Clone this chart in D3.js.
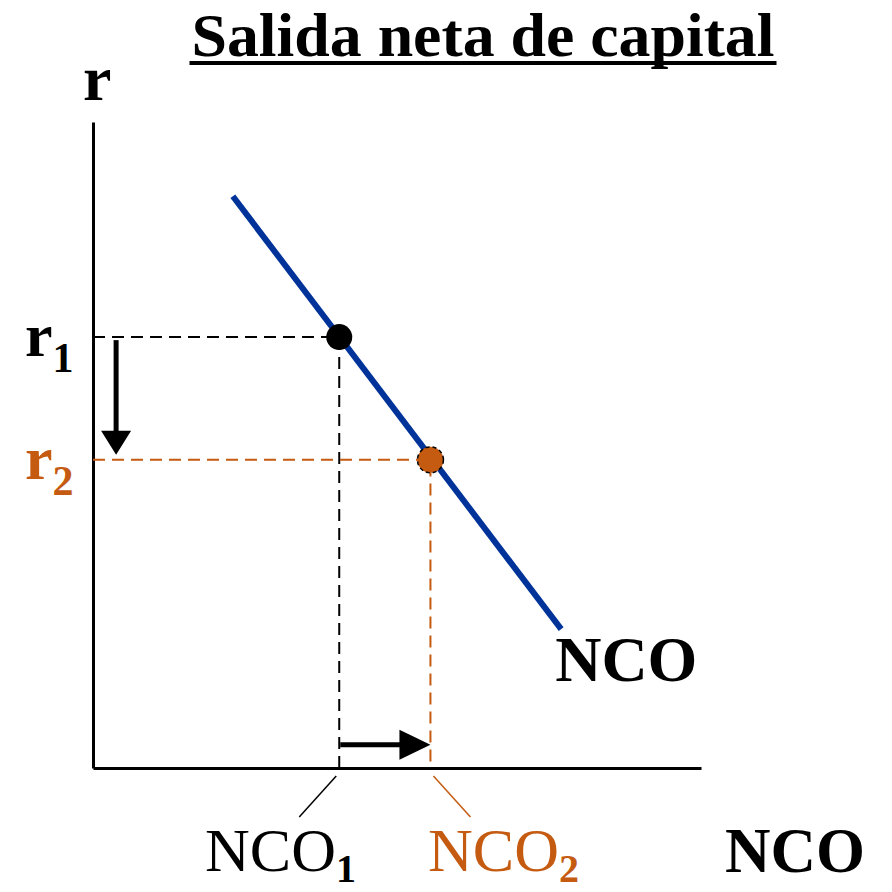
<!DOCTYPE html>
<html>
<head>
<meta charset="utf-8">
<script src="https://cdn.jsdelivr.net/npm/d3@7"></script>
<style>
  body { margin: 0; background: #fff; }
  svg { display: block; }
  text { font-family: "Liberation Serif", "Times New Roman", serif; }
</style>
</head>
<body>
<svg id="chart"></svg>
<script>
const width = 892;
const height = 892;
const margin = { top: 122, right: 191, bottom: 124, left: 93 };

// NCO demand curve (two end points, in chart units)
const curveX = [2.3, 7.7];
const curveY = [8.85, 2.15];
// equilibrium points: before (1) and after (2)
const eqNames = ["1", "2"];
const eqX = [4.05, 5.55];
const eqY = [6.67, 4.77];

const orange = "#c55a11";
const blue = "#003399";

const x = d3.scaleLinear().domain([0, 10]).range([margin.left, width - margin.right]);
const y = d3.scaleLinear().domain([0, 10]).range([height - margin.bottom, margin.top]);

const svg = d3.select("#chart").attr("width", width).attr("height", height);

// title (stretched a bit to the reference width)
const tw = 583;
svg.append("text")
  .attr("x", 483).attr("y", 56)
  .attr("text-anchor", "middle")
  .attr("font-size", 62).attr("font-weight", "bold")
  .attr("textLength", tw).attr("lengthAdjust", "spacingAndGlyphs")
  .text("Salida neta de capital");
svg.append("line")
  .attr("x1", 483 - tw / 2 - 2).attr("x2", 483 + tw / 2 + 2)
  .attr("y1", 63).attr("y2", 63)
  .attr("stroke", "#000").attr("stroke-width", 4);

// axes
svg.append("g")
  .attr("transform", `translate(0,${y(0)})`)
  .call(d3.axisBottom(x).tickValues([]).tickSizeOuter(0));
svg.append("g")
  .attr("transform", `translate(${x(0)},0)`)
  .call(d3.axisLeft(y).tickValues([]).tickSizeOuter(0));
svg.selectAll(".domain").attr("stroke", "#000").attr("stroke-width", 3);

// dashed guides
const colors = ["#000", orange];
eqX.forEach((v, i) => {
  svg.append("path")
    .attr("d", `M${x(0)},${y(eqY[i])}H${x(v)}V${y(0)}`)
    .attr("fill", "none")
    .attr("stroke", colors[i]).attr("stroke-width", 2)
    .attr("stroke-dasharray", "12,7");
});

// demand curve
svg.append("line")
  .attr("x1", x(curveX[0])).attr("y1", y(curveY[0]))
  .attr("x2", x(curveX[1])).attr("y2", y(curveY[1]))
  .attr("stroke", blue).attr("stroke-width", 6);

svg.append("text")
  .attr("x", x(curveX[1]) - 6).attr("y", y(curveY[1]) + 52)
  .attr("font-size", 64).attr("font-weight", "bold")
  .text("NCO");

// points
svg.append("circle")
  .attr("cx", x(eqX[0])).attr("cy", y(eqY[0])).attr("r", 13)
  .attr("fill", "#000");
svg.append("circle")
  .attr("cx", x(eqX[1])).attr("cy", y(eqY[1])).attr("r", 13)
  .attr("fill", orange)
  .attr("stroke", "#000").attr("stroke-width", 1.5)
  .attr("stroke-dasharray", "4,3");

// arrows
const ax = x(0.38);
svg.append("line")
  .attr("x1", ax).attr("x2", ax)
  .attr("y1", y(eqY[0]) + 3).attr("y2", y(eqY[1]) - 26)
  .attr("stroke", "#000").attr("stroke-width", 5);
svg.append("path")
  .attr("d", `M${ax - 15},${y(eqY[1]) - 29}L${ax + 15},${y(eqY[1]) - 29}L${ax},${y(eqY[1]) - 5}Z`)
  .attr("fill", "#000");

const ay = y(0.36);
svg.append("line")
  .attr("x1", x(eqX[0]) + 1).attr("x2", x(eqX[1]) - 28)
  .attr("y1", ay).attr("y2", ay)
  .attr("stroke", "#000").attr("stroke-width", 5);
svg.append("path")
  .attr("d", `M${x(eqX[1]) - 31},${ay - 15}L${x(eqX[1]) - 31},${ay + 15}L${x(eqX[1])},${ay}Z`)
  .attr("fill", "#000");

// axis titles
svg.append("text")
  .attr("x", 83).attr("y", 100)
  .attr("font-size", 64).attr("font-weight", "bold")
  .text("r");
svg.append("text")
  .attr("x", 725).attr("y", 872)
  .attr("font-size", 63).attr("font-weight", "bold")
  .text("NCO");

// r labels
eqY.forEach((v, i) => {
  const t = svg.append("text")
    .attr("x", 25).attr("y", y(v) + 19)
    .attr("font-size", 62).attr("font-weight", "bold")
    .attr("fill", colors[i]);
  t.append("tspan").text("r");
  t.append("tspan").attr("dy", 16).attr("font-size", 42).text(eqNames[i]);
});

// NCO labels under the axis with leader lines
const leadDx = [-40, 40];
const labelX = [205, 428];
eqX.forEach((v, i) => {
  svg.append("line")
    .attr("x1", x(v) + 3 * Math.sign(leadDx[i])).attr("y1", y(0) + 8)
    .attr("x2", x(v) + leadDx[i]).attr("y2", y(0) + 49)
    .attr("stroke", colors[i]).attr("stroke-width", 1.5);
  const t = svg.append("text")
    .attr("x", labelX[i]).attr("y", 871)
    .attr("font-size", 62)
    .attr("fill", colors[i]);
  t.append("tspan").text("NCO");
  t.append("tspan").attr("dy", 11).attr("font-size", 40).attr("font-weight", "bold").text(eqNames[i]);
});
</script>
</body>
</html>
